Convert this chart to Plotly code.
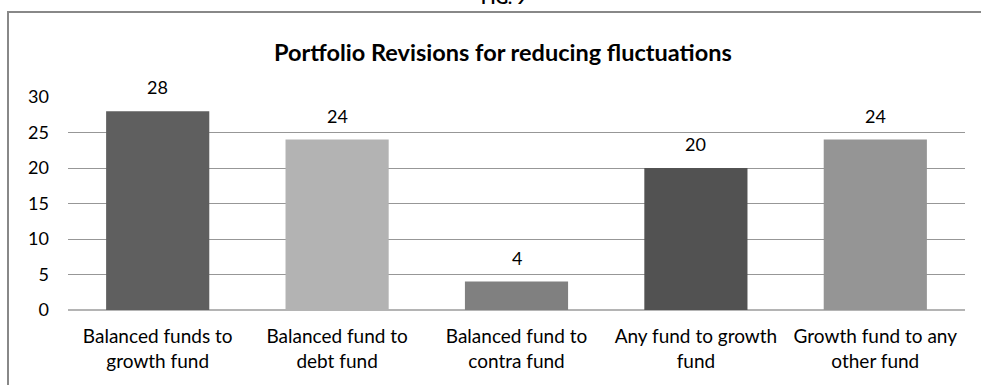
import plotly.graph_objects as go

# Survey responses: portfolio revisions made to reduce fluctuations
categories = [
    "Balanced funds to<br>growth fund",
    "Balanced fund to<br>debt fund",
    "Balanced fund to<br>contra fund",
    "Any fund to growth<br>fund",
    "Growth fund to any<br>other fund",
]
values = [28, 24, 4, 20, 24]
bar_colors = ["#5f5f5f", "#b3b3b3", "#808080", "#525252", "#959595"]
y_ticks = [0, 5, 10, 15, 20, 25, 30]

W, H = 981, 385
ML, MR, MT, MB = 68, 16, 97, 75
plot_w = W - ML - MR
plot_h = H - MT - MB


def px_x(px):
    return (px - ML) / plot_w


def px_y(py):
    return (H - MB - py) / plot_h


font = "Lato, 'Open Sans', sans-serif"

fig = go.Figure(
    go.Bar(
        x=categories,
        y=values,
        marker=dict(color=bar_colors, line=dict(width=0)),
        width=0.575,
        hoverinfo="x+y",
    )
)

# value labels sitting above each bar
value_labels = [
    dict(
        text=str(v),
        x=c,
        y=v,
        xref="x",
        yref="y",
        xanchor="center",
        yanchor="bottom",
        yshift=11,
        showarrow=False,
        font=dict(size=18, family=font, color="#000000"),
    )
    for c, v in zip(categories, values)
]

fig.update_layout(
    width=W,
    height=H,
    margin=dict(l=ML, r=MR, t=MT, b=MB),
    paper_bgcolor="white",
    plot_bgcolor="white",
    showlegend=False,
    font=dict(family=font, size=18, color="#000000"),
    xaxis=dict(
        showgrid=False,
        showline=False,
        ticks="",
        tickfont=dict(size=19),
        ticklabelstandoff=13,
        range=[-0.5, 4.5],
    ),
    yaxis=dict(
        range=[0, 30],
        tickvals=y_ticks,
        showgrid=True,
        gridcolor="#979797",
        gridwidth=1.4,
        zeroline=True,
        zerolinecolor="#b4b4b4",
        zerolinewidth=1.6,
        showline=False,
        ticks="",
        tickfont=dict(size=18),
        ticklabelstandoff=18,
    ),
    shapes=[
        dict(
            type="rect",
            xref="paper",
            yref="paper",
            x0=px_x(8),
            x1=px_x(995),
            y0=px_y(400),
            y1=px_y(12),
            line=dict(color="#888888", width=2),
            fillcolor="rgba(0,0,0,0)",
            layer="below",
        )
    ],
    annotations=value_labels
    + [
        dict(
            text="<b>Portfolio Revisions for reducing fluctuations</b>",
            xref="paper",
            yref="paper",
            x=px_x(503),
            y=px_y(52),
            xanchor="center",
            yanchor="middle",
            showarrow=False,
            font=dict(size=23.5, family=font, color="#000000"),
        ),
        dict(
            text="<b>FIG. 9</b>",
            xref="paper",
            yref="paper",
            x=px_x(503),
            y=px_y(10),
            xanchor="center",
            yanchor="bottom",
            showarrow=False,
            font=dict(size=17, family=font, color="#000000"),
        ),
    ],
)

fig.write_html("out.html")
